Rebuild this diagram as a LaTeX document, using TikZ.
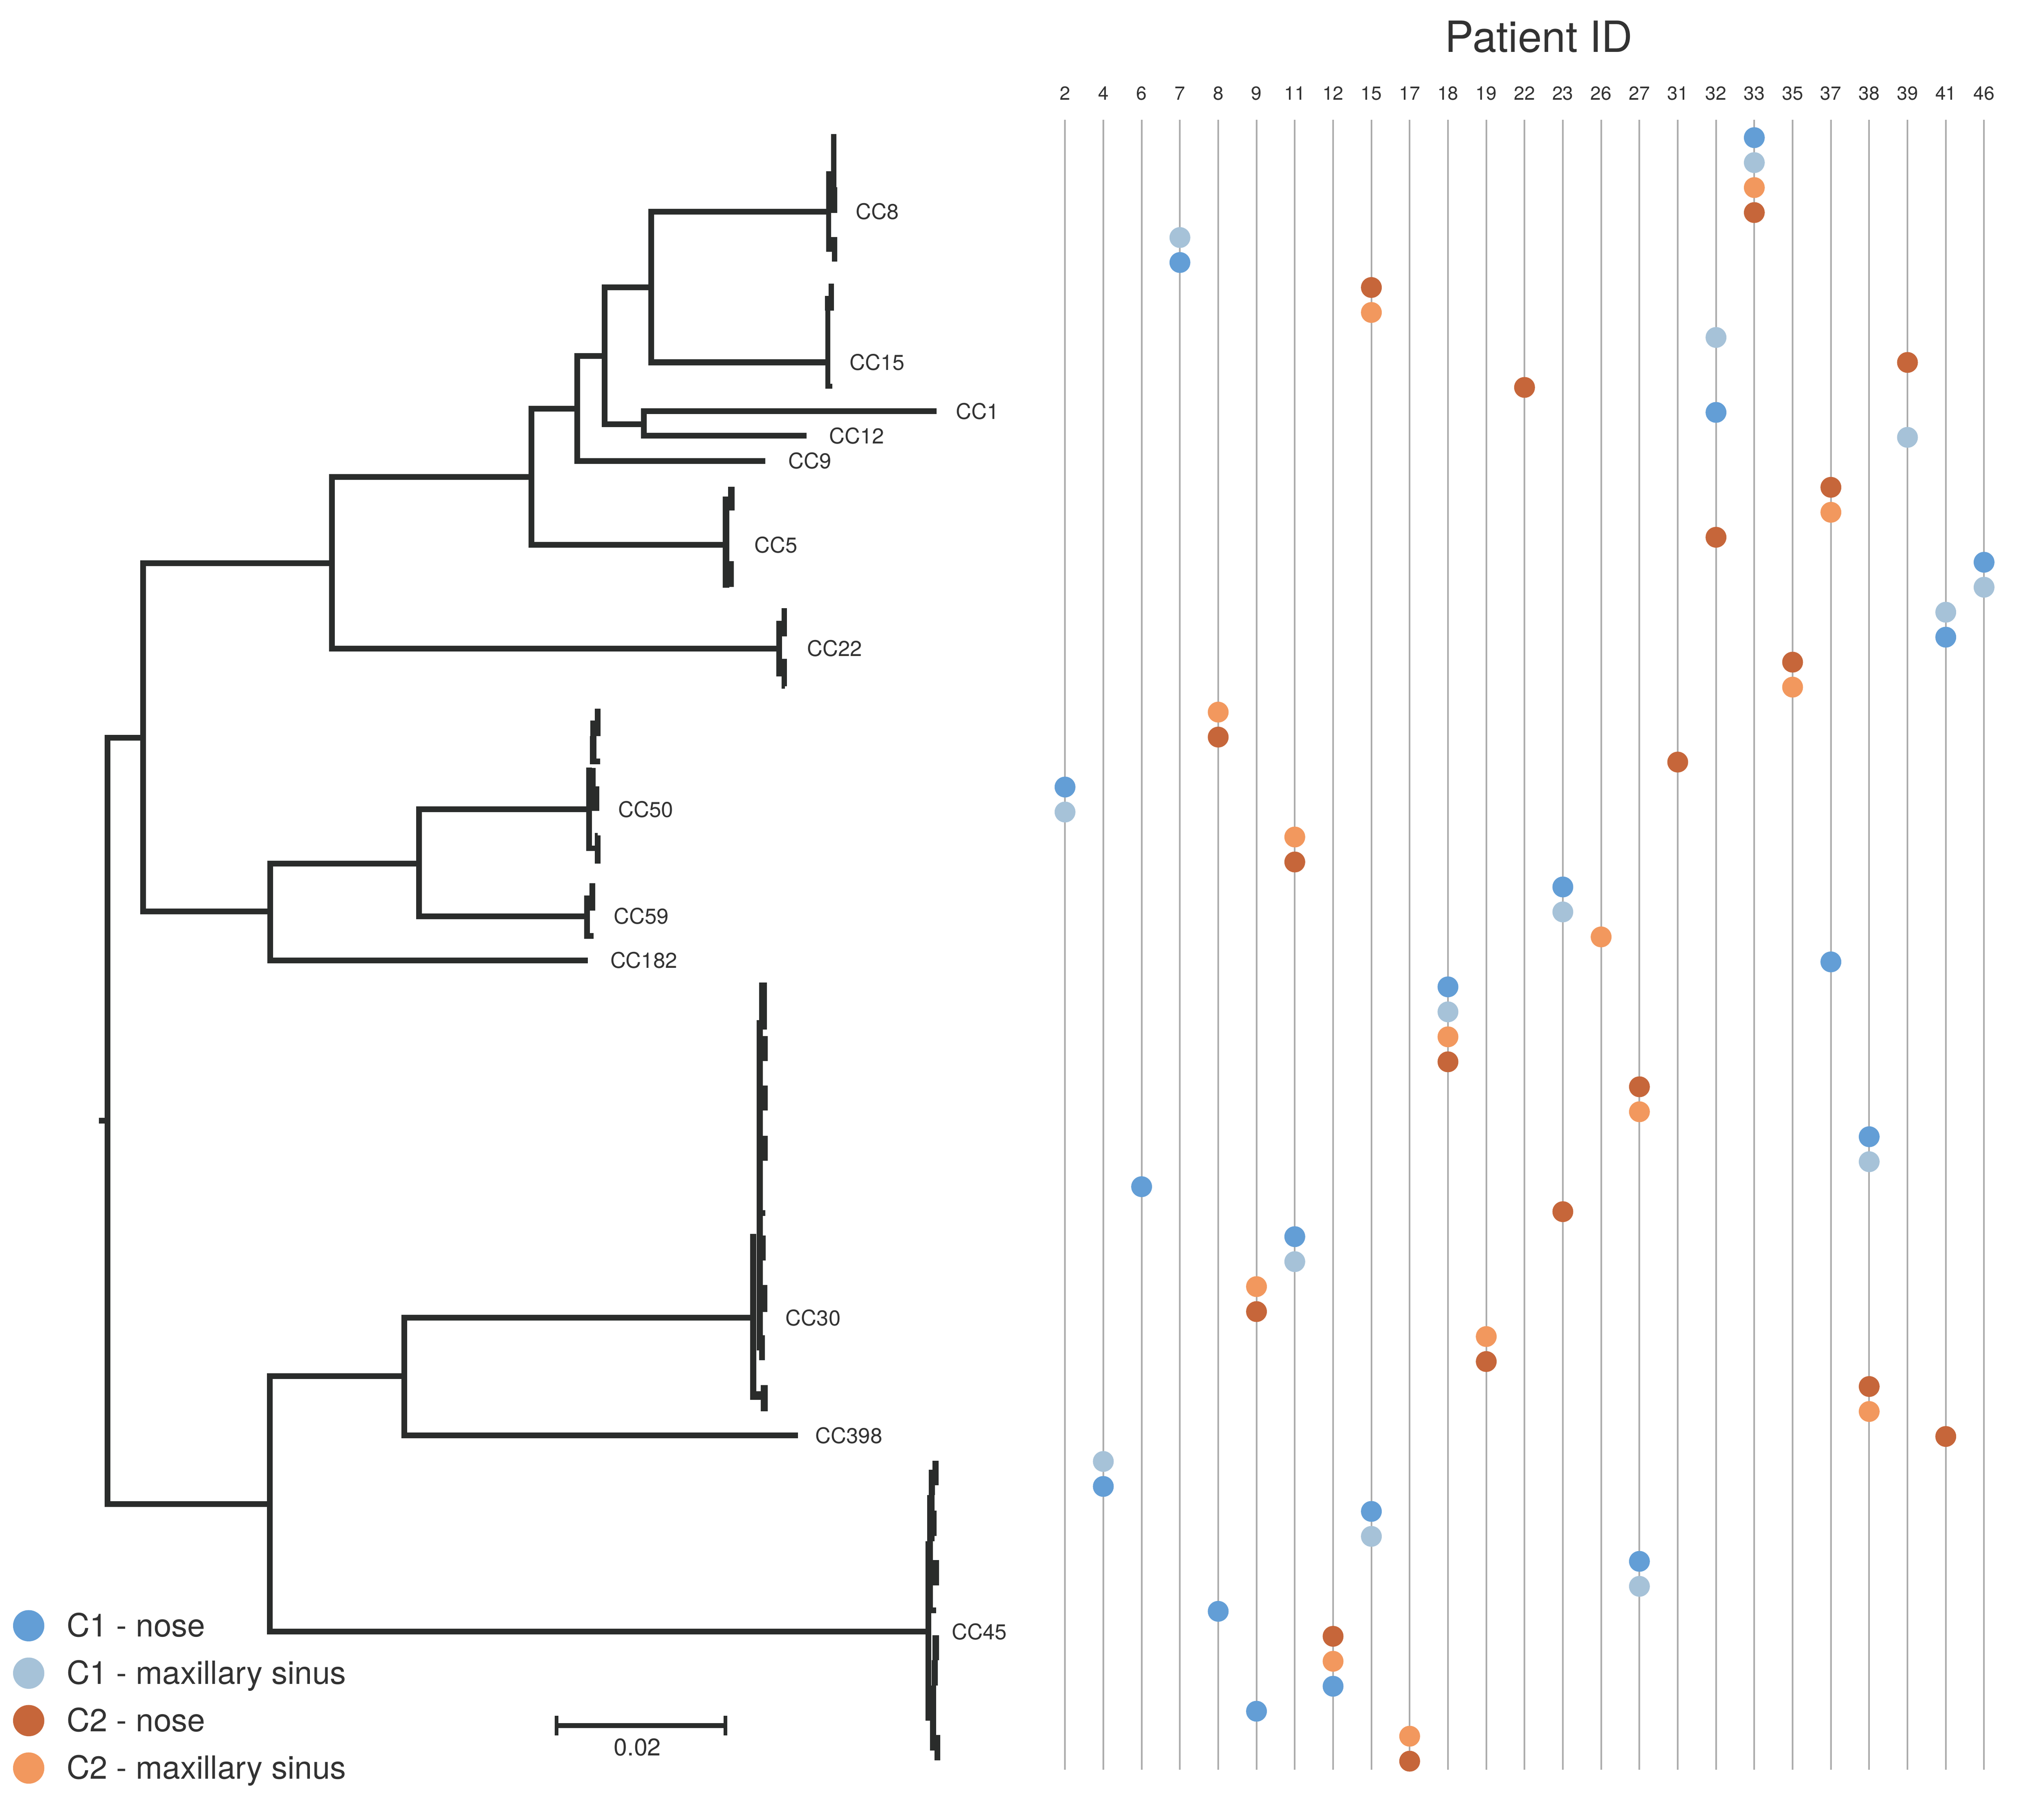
\documentclass[tikz,border=0pt]{standalone}
\usepackage{fontspec}
\setmainfont{TeX Gyre Heros}
\definecolor{treec}{RGB}{42,44,43}
\definecolor{gridc}{RGB}{172,172,172}
\definecolor{txtc}{RGB}{50,50,50}
\definecolor{cOneNose}{RGB}{99,158,214}
\definecolor{cOneSin}{RGB}{166,194,216}
\definecolor{cTwoNose}{RGB}{198,102,58}
\definecolor{cTwoSin}{RGB}{242,152,94}
\begin{document}
\begin{tikzpicture}[x=1pt,y=-1pt,
  phylo/.style={draw=treec,line width=4.4pt,line join=miter,line cap=butt},
  blk/.style={fill=treec},
  gridline/.style={draw=gridc,line width=1.2pt},
  collab/.style={anchor=base,inner sep=0pt,text=txtc,font=\fontsize{14.5}{16}\selectfont},
  cclab/.style={anchor=west,inner sep=0pt,text=txtc,font=\fontsize{16.5}{18}\selectfont},
  leglab/.style={anchor=base west,inner sep=0pt,text=txtc,font=\fontsize{24.5}{28}\selectfont},
  dA/.style={fill=cOneNose}, dB/.style={fill=cOneSin},
  dC/.style={fill=cTwoNose}, dD/.style={fill=cTwoSin}]
\useasboundingbox (0,0) rectangle (1568,1389.5);

% ---------- patient grid ----------
\node[anchor=base,inner sep=0pt,text=txtc,font=\fontsize{33}{36}\selectfont] (title) at (1180.5,40) {Patient ID};
\foreach \i in {0,...,24} {
  \draw[gridline] ({817+29.375*\i},92) -- ({817+29.375*\i},1358);
}
\foreach \i/\lab in {0/2,1/4,2/6,3/7,4/8,5/9,6/11,7/12,8/15,9/17,10/18,11/19,12/22,13/23,14/26,15/27,16/31,17/32,18/33,19/35,20/37,21/38,22/39,23/41,24/46} {
  \node[collab] (pid\lab) at ({817+29.375*\i},76.6) {\lab};
}
\foreach \r/\c/\s in {0/18/dA,1/18/dB,2/18/dD,3/18/dC,4/3/dB,5/3/dA,6/8/dC,7/8/dD,8/17/dB,9/22/dC,
  10/12/dC,11/17/dA,12/22/dB,14/20/dC,15/20/dD,16/17/dC,17/24/dA,18/24/dB,19/23/dB,20/23/dA,
  21/19/dC,22/19/dD,23/4/dD,24/4/dC,25/16/dC,26/0/dA,27/0/dB,28/6/dD,29/6/dC,30/13/dA,
  31/13/dB,32/14/dD,33/20/dA,34/10/dA,35/10/dB,36/10/dD,37/10/dC,38/15/dC,39/15/dD,40/21/dA,
  41/21/dB,42/2/dA,43/13/dC,44/6/dA,45/6/dB,46/5/dD,47/5/dC,48/11/dD,49/11/dC,50/21/dC,
  51/21/dD,52/23/dC,53/1/dB,54/1/dA,55/8/dA,56/8/dB,57/15/dA,58/15/dB,59/4/dA,60/7/dC,
  61/7/dD,62/7/dA,63/5/dA,64/9/dD,65/9/dC} {
  \fill[\s] ({817+29.375*\c},{105.6+19.165*\r}) circle[radius=8pt];
}

% ---------- tree: internal branches ----------
\draw[phylo] (76,860) -- (82.6,860);
\draw[phylo] (109.8,566) -- (82.6,566) -- (82.6,1154) -- (207,1154);
\draw[phylo] (254.7,432) -- (109.8,432) -- (109.8,699.3) -- (207.4,699.3);
\draw[phylo] (407.6,366) -- (254.7,366) -- (254.7,497.6) -- (595.4,497.6);
\draw[phylo] (442.7,313.5) -- (407.6,313.5) -- (407.6,418) -- (554.5,418);
\draw[phylo] (463.7,273) -- (442.7,273) -- (442.7,353.6) -- (586.9,353.6);
\draw[phylo] (499.6,220.5) -- (463.7,220.5) -- (463.7,325.6) -- (494,325.6);
\draw[phylo] (633.7,162.3) -- (499.6,162.3) -- (499.6,278) -- (633.2,278);
\draw[phylo] (718.6,315.6) -- (494,315.6) -- (494,334.4) -- (618.6,334.4);
\draw[phylo] (321.5,662.6) -- (207.4,662.6) -- (207.4,736.8) -- (451,736.8);
\draw[phylo] (450.5,621) -- (321.5,621) -- (321.5,703) -- (449,703);
\draw[phylo] (310.2,1055.9) -- (207,1055.9) -- (207,1251.9) -- (710,1251.9);
\draw[phylo] (576.5,1011) -- (310.2,1011) -- (310.2,1101.3) -- (612,1101.3);

% ---------- tree: clusters ----------
% CC8
\fill[blk] (637.4,102.9) rectangle (641.5,163.3);
\fill[blk] (633.7,131.4) rectangle (640.9,163.3);
\fill[blk] (633.7,143.6) rectangle (642.2,163.3);
\fill[blk] (633.7,163.3) rectangle (637.4,193.2);
\fill[blk] (633.7,182) rectangle (642.2,193.2);
\fill[blk] (638.2,193.2) rectangle (642.2,200.8);
% CC15
\fill[blk] (635.7,217.7) rectangle (639.8,238.3);
\fill[blk] (632.7,227) rectangle (638.6,238.3);
\fill[blk] (633.2,238.3) rectangle (637,298.3);
\fill[blk] (633.2,294.6) rectangle (638.6,298.3);
% CC5
\fill[blk] (558.6,373.6) rectangle (563.6,391.7);
\fill[blk] (554.5,381) rectangle (559.5,451);
\fill[blk] (554.5,430.6) rectangle (562.9,450.2);
% CC22
\fill[blk] (595.4,476.5) rectangle (600,519.1);
\fill[blk] (599.5,466.7) rectangle (603.7,488.2);
\fill[blk] (599.5,505.4) rectangle (603.7,526.5);
\fill[blk] (599.5,526.5) rectangle (602.2,528.5);
% CC50
\fill[blk] (456.4,543.8) rectangle (460.8,564.8);
\fill[blk] (452.7,553) rectangle (460.8,564.8);
\fill[blk] (452.5,564.8) rectangle (457.4,586.5);
\fill[blk] (457.4,581.9) rectangle (460.3,586.5);
\fill[blk] (449.8,589.1) rectangle (457,603.5);
\fill[blk] (449.8,603.5) rectangle (459.6,622.2);
\fill[blk] (449.8,589) rectangle (454.1,652.8);
\fill[blk] (454.1,648.8) rectangle (456.4,652.8);
\fill[blk] (456.4,641) rectangle (460.8,662.7);
\fill[blk] (456.4,639) rectangle (458.5,641);
% CC59
\fill[blk] (452.2,677.8) rectangle (456.7,698.8);
\fill[blk] (448,687) rectangle (452.5,720.4);
\fill[blk] (452.5,715.8) rectangle (455.3,720.4);
% CC30
\fill[blk] (582.5,754) rectangle (588.2,790);
\fill[blk] (580.6,782.6) rectangle (585.3,1036);
\fill[blk] (584.5,795) rectangle (589,814.1);
\fill[blk] (584.5,833) rectangle (589,852);
\fill[blk] (584.5,871.6) rectangle (589,890.6);
\fill[blk] (584.5,928.5) rectangle (587,933);
\fill[blk] (584.2,948) rectangle (587.4,967);
\fill[blk] (584.2,986) rectangle (588.5,1006.5);
\fill[blk] (582.4,1024.5) rectangle (586.8,1043.6);
\fill[blk] (575.5,946.9) rectangle (580.2,1074);
\fill[blk] (580.2,1067.5) rectangle (583.6,1074);
\fill[blk] (583.6,1062.8) rectangle (589,1083);
% CC45
\fill[blk] (715.2,1120.7) rectangle (719.9,1139.6);
\fill[blk] (712.4,1127.8) rectangle (717.2,1147.2);
\fill[blk] (711.3,1147.2) rectangle (716.9,1182.6);
\fill[blk] (716.9,1159) rectangle (718.6,1178.4);
\fill[blk] (710,1182.6) rectangle (714.4,1320.3);
\fill[blk] (714.4,1182.6) rectangle (715.7,1237.9);
\fill[blk] (715.7,1197) rectangle (720.3,1216.4);
\fill[blk] (715.7,1233.3) rectangle (718.1,1237.9);
\fill[blk] (715.2,1254.7) rectangle (720.3,1273.8);
\fill[blk] (714.7,1273.8) rectangle (719.4,1293.2);
\fill[blk] (710,1293.2) rectangle (718.1,1320.3);
\fill[blk] (713.5,1320.3) rectangle (718.1,1343);
\fill[blk] (716.9,1331.2) rectangle (721.4,1350.6);

% ---------- cluster labels ----------
\node[cclab] (lCC8)   at (656.4,162.3) {CC8};
\node[cclab] (lCC15)  at (651.5,278)   {CC15};
\node[cclab] (lCC1)   at (733,315.6)   {CC1};
\node[cclab] (lCC12)  at (636,334.4)   {CC12};
\node[cclab] (lCC9)   at (604.5,353.6) {CC9};
\node[cclab] (lCC5)   at (578.5,418)   {CC5};
\node[cclab] (lCC22)  at (619,497.6)   {CC22};
\node[cclab] (lCC50)  at (474,621)     {CC50};
\node[cclab] (lCC59)  at (470.6,703)   {CC59};
\node[cclab] (lCC182) at (468,736.8)   {CC182};
\node[cclab] (lCC30)  at (602.5,1011)  {CC30};
\node[cclab] (lCC398) at (625.3,1101.3) {CC398};
\node[cclab] (lCC45)  at (730,1251.9)  {CC45};

% ---------- scale bar ----------
\coordinate (sbL) at (427,1324);
\coordinate (sbR) at (556.5,1324);
\draw[treec,line width=3.5pt] (sbL) -- (sbR);
\draw[treec,line width=2.6pt] ([yshift=7.5pt]sbL) -- ([yshift=-7.5pt]sbL);
\draw[treec,line width=2.6pt] ([yshift=7.5pt]sbR) -- ([yshift=-7.5pt]sbR);
\node[anchor=base,inner sep=0pt,text=txtc,font=\fontsize{18.5}{20}\selectfont] (sblab) at (489,1347) {0.02};

% ---------- legend ----------
\fill[dA] (22,1247.4) circle[radius=12pt];
\fill[dB] (22,1283.8) circle[radius=12pt];
\fill[dC] (22,1320.2) circle[radius=12pt];
\fill[dD] (22,1356.6) circle[radius=12pt];
\node[leglab] (legA) at (51,1255.7) {C1 - nose};
\node[leglab] (legB) at (51,1292.1) {C1 - maxillary sinus};
\node[leglab] (legC) at (51,1328.5) {C2 - nose};
\node[leglab] (legD) at (51,1364.9) {C2 - maxillary sinus};
\end{tikzpicture}
\end{document}
